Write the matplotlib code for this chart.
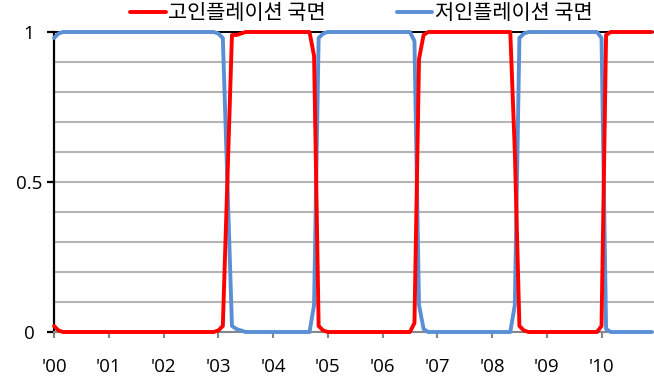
import numpy as np
import matplotlib
matplotlib.use("Agg")
import matplotlib.pyplot as plt

plt.rcParams['font.family'] = ['Open Sans', 'Noto Sans CJK KR', 'DejaVu Sans']

# Monthly filtered regime probabilities, Jan 2000 - Dec 2010
high_infl = [
    0.02, 0.005, 0, 0, 0, 0, 0, 0, 0, 0, 0, 0,            # 2000
    0, 0, 0, 0, 0, 0, 0, 0, 0, 0, 0, 0,                    # 2001
    0, 0, 0, 0, 0, 0, 0, 0, 0, 0, 0, 0,                    # 2002
    0.005, 0.02, 0.5, 0.99, 0.99, 0.995, 1, 1, 1, 1, 1, 1, # 2003
    1, 1, 1, 1, 1, 1, 1, 1, 1, 0.92, 0.02, 0.005,         # 2004
    0, 0, 0, 0, 0, 0, 0, 0, 0, 0, 0, 0,                    # 2005
    0, 0, 0, 0, 0, 0, 0, 0.03, 0.91, 0.99, 1, 1,           # 2006
    1, 1, 1, 1, 1, 1, 1, 1, 1, 1, 1, 1,                    # 2007
    1, 1, 1, 1, 1, 0.6, 0.02, 0.005, 0, 0, 0, 0,           # 2008
    0, 0, 0, 0, 0, 0, 0, 0, 0, 0, 0, 0,                    # 2009
    0.02, 0.99, 1, 1, 1, 1, 1, 1, 1, 1, 1, 1,              # 2010
]
low_infl = [
    0.98, 0.995, 1, 1, 1, 1, 1, 1, 1, 1, 1, 1,             # 2000
    1, 1, 1, 1, 1, 1, 1, 1, 1, 1, 1, 1,                    # 2001
    1, 1, 1, 1, 1, 1, 1, 1, 1, 1, 1, 1,                    # 2002
    0.995, 0.98, 0.5, 0.02, 0.01, 0.005, 0, 0, 0, 0, 0, 0, # 2003
    0, 0, 0, 0, 0, 0, 0, 0, 0, 0.09, 0.98, 0.995,          # 2004
    1, 1, 1, 1, 1, 1, 1, 1, 1, 1, 1, 1,                    # 2005
    1, 1, 1, 1, 1, 1, 1, 0.97, 0.09, 0.01, 0, 0,           # 2006
    0, 0, 0, 0, 0, 0, 0, 0, 0, 0, 0, 0,                    # 2007
    0, 0, 0, 0, 0, 0.09, 0.98, 0.995, 1, 1, 1, 1,          # 2008
    1, 1, 1, 1, 1, 1, 1, 1, 1, 1, 1, 1,                    # 2009
    0.98, 0.01, 0, 0, 0, 0, 0, 0, 0, 0, 0, 0,              # 2010
]
year_labels = ["'00", "'01", "'02", "'03", "'04", "'05", "'06", "'07", "'08", "'09", "'10"]
series_labels = ["고인플레이션 국면", "저인플레이션 국면"]

months = np.arange(len(high_infl))

fig = plt.figure(figsize=(6.54, 3.80), dpi=100)
ax = fig.add_axes([54/654, 48/380, 600/654, 300/380])

red = "#ff0000"
blue = "#5b8fd5"
l1, = ax.plot(months, high_infl, color=red, lw=2.8, solid_joinstyle='round',
              solid_capstyle='round', clip_on=False, zorder=4)
l2, = ax.plot(months, low_infl, color=blue, lw=2.8, solid_joinstyle='round',
              solid_capstyle='round', clip_on=False, zorder=3)

ax.set_xlim(0, 131.5)
ax.set_ylim(0, 1)

ax.set_xticks(np.arange(len(year_labels)) * 12)
ax.set_xticklabels(year_labels)
ax.set_yticks([0, 0.5, 1])
ax.set_yticklabels(["0", "0.5", "1"])
ax.set_yticks(np.arange(1, 10) / 10, minor=True)

ax.grid(axis='y', which='both', color='#b5b5b5', lw=1.5, zorder=0)
ax.set_axisbelow(True)

ax.spines['right'].set_visible(False)
ax.spines['left'].set_color('black')
ax.spines['left'].set_linewidth(1.6)
ax.spines['top'].set_color('black')
ax.spines['top'].set_linewidth(1.4)
ax.spines['bottom'].set_color('#868686')
ax.spines['bottom'].set_linewidth(1.5)

ax.tick_params(axis='x', which='major', length=4, width=1.5, color='#868686',
               pad=15, labelsize=13.5, labelcolor='black')
ax.tick_params(axis='y', which='major', length=5, width=1.6, color='black',
               pad=13, labelsize=13.5)
ax.tick_params(axis='y', which='minor', length=0)
for lab in ax.get_yticklabels():
    lab.set_horizontalalignment('center')

leg = ax.legend([l1, l2], series_labels, loc='center', bbox_to_anchor=(0.512, (380 - 13 - 48) / 300),
                ncol=2, frameon=False, handlelength=1.7, handletextpad=0.12,
                columnspacing=3.4, borderpad=0, borderaxespad=0,
                prop={'family': ['Noto Sans CJK KR', 'DejaVu Sans'], 'size': 15})

fig.savefig("out.png", dpi=100)
